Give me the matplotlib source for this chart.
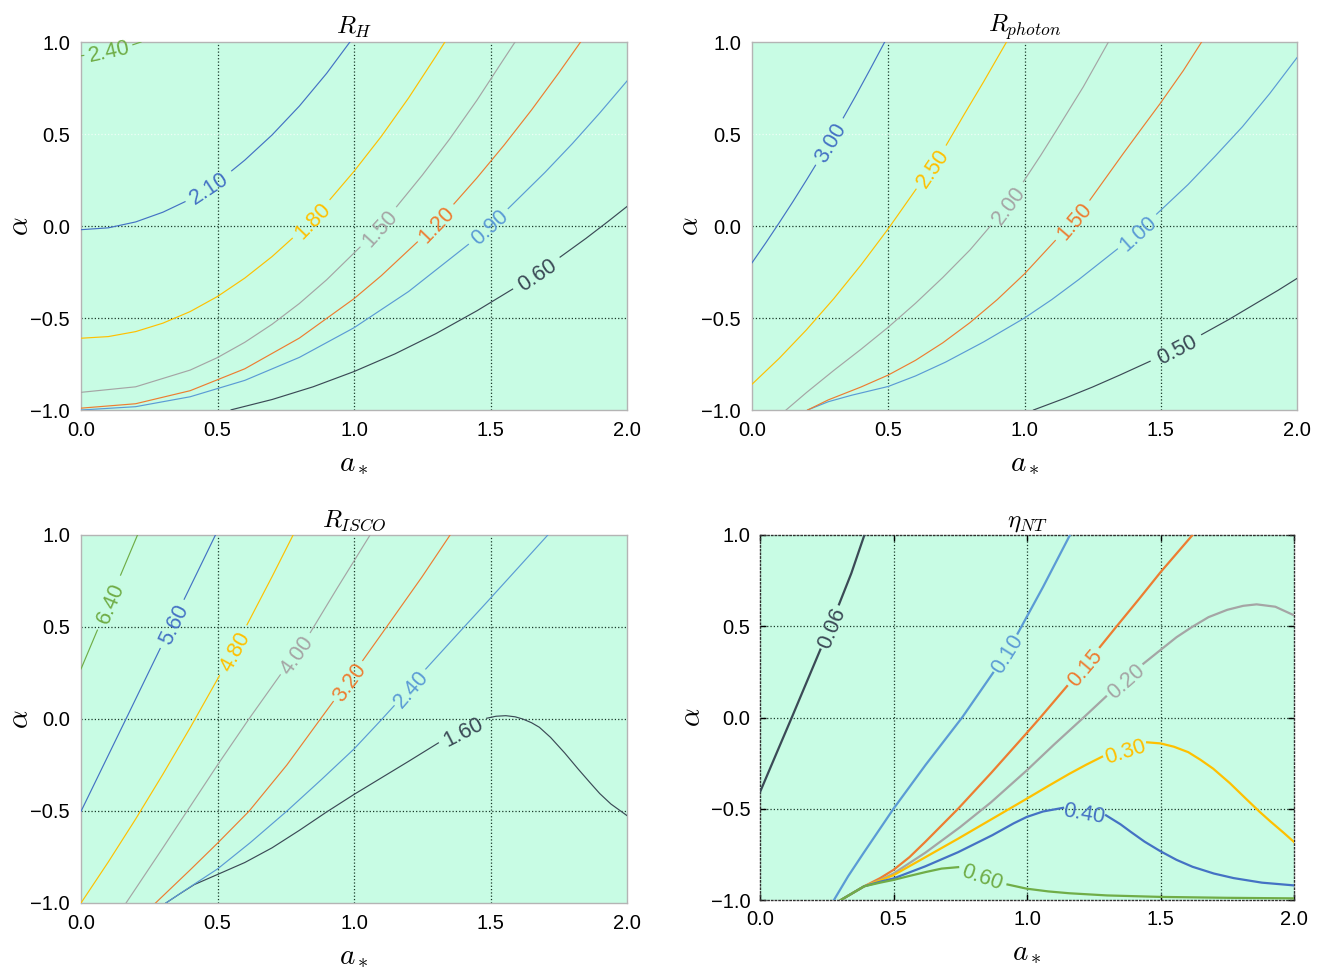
import numpy as np
import matplotlib
matplotlib.use('Agg')
import matplotlib.pyplot as plt

plt.rcParams['font.family'] = ['Liberation Sans', 'DejaVu Sans']
plt.rcParams['mathtext.fontset'] = 'cm'

BG = '#c8fce4'
COLORS = ['#3b4a56', '#5b9bd5', '#ed7d31', '#a5a5a5', '#ffc000', '#4472c4', '#70ad47']
N = None  # label gap

# ---------------- R_H ----------------
RH_levels = [0.60, 0.90, 1.20, 1.50, 1.80, 2.10, 2.40]
RH_a = [
    [0.55, 0.7, 0.85, 1.0, 1.15, 1.3, 1.45, 1.581, N, 1.755, 1.85, 1.93, 2.0],
    [0.0, 0.2, 0.4, 0.6, 0.8, 1.0, 1.2, 1.419, N, 1.565, 1.7, 1.8, 1.9, 2.0],
    [0.0, 0.2, 0.4, 0.6, 0.8, 1.0, 1.1, 1.232, N, 1.366, 1.45, 1.55, 1.65, 1.75, 1.83],
    [0.0, 0.2, 0.4, 0.5, 0.6, 0.7, 0.8, 0.9, 1.022, N, 1.156, 1.25, 1.35, 1.45, 1.55, 1.59],
    [0.0, 0.1, 0.2, 0.3, 0.4, 0.5, 0.6, 0.7, 0.774, N, 0.912, 1.0, 1.1, 1.2, 1.3, 1.333],
    [0.0, 0.1, 0.2, 0.3, 0.381, N, 0.552, 0.6, 0.7, 0.8, 0.9, 0.985],
    [0.0, 0.01, N, 0.19, 0.22],
]
RH_alpha = [
    [-0.999, -0.943, -0.874, -0.791, -0.695, -0.585, -0.461, -0.343, N, -0.169, -0.067, 0.024, 0.106],
    [-1.0, -0.982, -0.928, -0.839, -0.714, -0.553, -0.356, -0.1, N, 0.095, 0.292, 0.448, 0.614, 0.788],
    [-0.99, -0.966, -0.895, -0.776, -0.609, -0.395, -0.27, -0.087, N, 0.12, 0.261, 0.44, 0.63, 0.832, 1.0],
    [-0.904, -0.874, -0.783, -0.715, -0.632, -0.534, -0.421, -0.292, -0.115, N, 0.105, 0.276, 0.472, 0.683, 0.91, 1.0],
    [-0.61, -0.601, -0.574, -0.528, -0.465, -0.383, -0.283, -0.166, -0.067, N, 0.144, 0.297, 0.487, 0.696, 0.923, 1.0],
    [-0.02, -0.01, 0.022, 0.075, 0.132, N, 0.30, 0.358, 0.495, 0.652, 0.83, 1.0],
    [0.925, 0.927, N, 0.985, 1.0],
]

# ---------------- R_photon ----------------
RP_levels = [0.50, 1.00, 1.50, 2.00, 2.50, 3.00]
RP_a = [
    [1.033, 1.15, 1.25, 1.35, 1.461, N, 1.65, 1.75, 1.85, 1.93, 2.0],
    [0.204, 0.28, 0.365, 0.5, 0.6, 0.71, 0.85, 1.0, 1.1, 1.2, 1.341, N, 1.485, 1.6, 1.7, 1.8, 1.9, 2.0],
    [0.204, 0.28, 0.4, 0.5, 0.6, 0.7, 0.8, 0.9, 1.0, 1.113, N, 1.24, 1.3, 1.363, 1.43, 1.497, 1.583, 1.65],
    [0.125, 0.2, 0.3, 0.4, 0.5, 0.6, 0.7, 0.8, 0.875, N, 0.996, 1.06, 1.118, 1.216, 1.308],
    [0.0, 0.1, 0.2, 0.3, 0.4, 0.5, 0.602, N, 0.713, 0.78, 0.85, 0.934],
    [0.0, 0.05, 0.1, 0.15, 0.2, 0.233, N, 0.335, 0.38, 0.43, 0.487],
]
RP_alpha = [
    [-1.0, -0.935, -0.875, -0.81, -0.735, N, -0.59, -0.508, -0.42, -0.35, -0.285],
    [-1.0, -0.955, -0.92, -0.872, -0.815, -0.74, -0.63, -0.5, -0.40, -0.29, -0.125, N, 0.065, 0.225, 0.38, 0.54, 0.72, 0.915],
    [-1.0, -0.945, -0.875, -0.81, -0.73, -0.635, -0.525, -0.40, -0.26, -0.079, N, 0.141, 0.265, 0.395, 0.53, 0.664, 0.845, 1.0],
    [-1.0, -0.905, -0.785, -0.67, -0.55, -0.42, -0.28, -0.13, 0.0, N, 0.241, 0.385, 0.522, 0.757, 1.0],
    [-0.86, -0.719, -0.564, -0.395, -0.212, -0.015, 0.2, N, 0.44, 0.61, 0.784, 1.0],
    [-0.2, -0.093, 0.018, 0.132, 0.25, 0.33, N, 0.588, 0.706, 0.842, 1.0],
]

# ---------------- R_ISCO ----------------
RI_levels = [1.60, 2.40, 3.20, 4.00, 4.80, 5.60, 6.40]
RI_a = [
    [0.311, 0.36, 0.415, 0.5, 0.6, 0.7, 0.8, 0.9, 1.0, 1.1, 1.2, 1.309, N,
     1.486, 1.52, 1.556, 1.59, 1.618, 1.65, 1.679, 1.72, 1.772, 1.82, 1.864, 1.9, 1.941, 2.0],
    [0.311, 0.4, 0.5, 0.62, 0.753, 0.88, 1.0, 1.101, 1.147, N, 1.263, 1.402, 1.499, 1.6, 1.71],
    [0.273, 0.4, 0.5, 0.615, 0.754, 0.877, 0.924, N, 1.032, 1.124, 1.248, 1.352],
    [0.165, 0.3, 0.4, 0.5, 0.615, 0.73, N, 0.84, 0.94, 1.059],
    [0.0, 0.1, 0.2, 0.3, 0.4, 0.507, N, 0.608, 0.7, 0.777],
    [0.0, 0.08, 0.168, 0.237, 0.29, N, 0.378, 0.446, 0.4925],
    [0.0, 0.06, N, 0.145, 0.207],
]
RI_alpha = [
    [-1.0, -0.952, -0.9, -0.845, -0.78, -0.70, -0.605, -0.505, -0.41, -0.32, -0.23, -0.13, N,
     0.004, 0.015, 0.018, 0.012, 0.0, -0.02, -0.045, -0.1, -0.185, -0.27, -0.345, -0.405, -0.462, -0.525],
    [-1.0, -0.912, -0.815, -0.672, -0.502, -0.33, -0.163, -0.003, 0.072, N, 0.272, 0.498, 0.655, 0.82, 1.0],
    [-1.0, -0.82, -0.675, -0.502, -0.25, 0.0, 0.095, N, 0.318, 0.51, 0.77, 1.0],
    [-1.0, -0.70, -0.475, -0.25, 0.0, 0.24, N, 0.47, 0.715, 1.0],
    [-1.0, -0.777, -0.544, -0.3, -0.047, 0.235, N, 0.512, 0.774, 1.0],
    [-0.502, -0.258, 0.01, 0.221, 0.383, N, 0.651, 0.858, 1.0],
    [0.272, 0.483, N, 0.782, 1.0],
]

# ---------------- eta_NT ----------------
EN_levels = [0.06, 0.10, 0.15, 0.20, 0.30, 0.40, 0.60]
EN_a = [
    [0.0, 0.065, 0.119, 0.188, 0.226, N, 0.296, 0.342, 0.391],
    [0.277, 0.33, 0.388, 0.5, 0.62, 0.757, 0.873, N, 0.965, 1.06, 1.161],
    [0.303, 0.39, 0.45, 0.5, 0.56, 0.62, 0.742, 0.865, 0.999, 1.05, 1.15, N, 1.273, 1.336, 1.42, 1.5, 1.62],
    [0.303, 0.39, 0.45, 0.5, 0.62, 0.75, 0.865, 0.999, 1.1, 1.212, 1.296, N,
     1.436, 1.5, 1.56, 1.617, 1.68, 1.75, 1.81, 1.86, 1.93, 2.0],
    [0.303, 0.39, 0.45, 0.5, 0.62, 0.742, 0.87, 0.999, 1.08, 1.158, 1.22, 1.281, N,
     1.45, 1.5, 1.55, 1.604, 1.65, 1.697, 1.76, 1.82, 1.87, 1.912, 1.96, 2.0],
    [0.303, 0.39, 0.45, 0.5, 0.62, 0.742, 0.87, 0.95, 0.999, 1.06, 1.135, N,
     1.296, 1.35, 1.389, 1.44, 1.5, 1.56, 1.62, 1.7, 1.774, 1.88, 2.0],
    [0.303, 0.39, 0.45, 0.5, 0.56, 0.62, 0.68, 0.742, N, 0.927, 0.999, 1.08, 1.158, 1.3, 1.5, 1.75, 2.0],
]
EN_alpha = [
    [-0.409, -0.185, 0.0, 0.24, 0.372, N, 0.62, 0.79, 1.0],
    [-1.0, -0.87, -0.742, -0.5, -0.26, 0.0, 0.245, N, 0.46, 0.715, 1.0],
    [-1.0, -0.925, -0.88, -0.835, -0.765, -0.68, -0.5, -0.305, -0.085, 0.0, 0.172, N, 0.386, 0.5, 0.65, 0.796, 1.0],
    [-1.0, -0.925, -0.89, -0.855, -0.74, -0.6, -0.465, -0.29, -0.15, 0.0, 0.115, N,
     0.295, 0.37, 0.44, 0.495, 0.55, 0.59, 0.612, 0.62, 0.607, 0.56],
    [-1.0, -0.925, -0.893, -0.864, -0.765, -0.664, -0.555, -0.445, -0.375, -0.309, -0.26, -0.215, N,
     -0.136, -0.142, -0.16, -0.19, -0.232, -0.28, -0.36, -0.445, -0.515, -0.57, -0.63, -0.682],
    [-1.0, -0.925, -0.9, -0.882, -0.815, -0.738, -0.645, -0.58, -0.545, -0.515, -0.495, N,
     -0.536, -0.585, -0.627, -0.68, -0.733, -0.78, -0.818, -0.855, -0.88, -0.905, -0.92],
    [-1.0, -0.925, -0.905, -0.89, -0.868, -0.847, -0.828, -0.82, N, -0.915, -0.938, -0.953, -0.963, -0.975, -0.983, -0.988, -0.991],
]

TITLES = [r'$R_H$', r'$R_{photon}$', r'$R_{ISCO}$', r'$\eta_{NT}$']
XTICKS = [0.0, 0.5, 1.0, 1.5, 2.0]
YTICKS = [-1.0, -0.5, 0.0, 0.5, 1.0]

W, H = 1323, 967
fig = plt.figure(figsize=(W / 100, H / 100), dpi=100)


def box(l, r, t, b):
    return [l / W, 1 - b / H, (r - l) / W, (b - t) / H]


axes = [
    fig.add_axes(box(81, 627, 42, 410)),
    fig.add_axes(box(752, 1297, 42, 410)),
    fig.add_axes(box(81, 627, 535, 903)),
    fig.add_axes(box(760, 1294, 535, 900)),
]
YLABEL_X = [(34 - 81) / 546, (704 - 752) / 545, (34 - 81) / 546, (706 - 760) / 534]

data = [(RH_levels, RH_a, RH_alpha), (RP_levels, RP_a, RP_alpha),
        (RI_levels, RI_a, RI_alpha), (EN_levels, EN_a, EN_alpha)]

for idx, ax in enumerate(axes):
    last = idx == 3
    ax.set_facecolor(BG)
    ax.set_xlim(0, 2)
    ax.set_ylim(-1, 1)
    ax.set_xticks(XTICKS)
    ax.set_yticks(YTICKS)
    ax.set_xticklabels(['%.1f' % v for v in XTICKS])
    ax.set_yticklabels([('\u2212%.1f' % -v) if v < 0 else '%.1f' % v for v in YTICKS])
    if last:
        ax.tick_params(direction='in', length=4, width=1, color='k', top=True, right=True,
                       labelsize=14.5, pad=7)
        for s in ax.spines.values():
            s.set_linestyle(':')
            s.set_color('#303030')
            s.set_linewidth(1.0)
    else:
        ax.tick_params(length=0, labelsize=14.5, pad=8)
        for s in ax.spines.values():
            s.set_color('#b4b4b4')
            s.set_linewidth(1.0)
    for v in XTICKS[1:-1]:
        ax.axvline(v, color='#1a3a2a', ls=':', lw=0.9, zorder=1)
    for v in YTICKS[1:-1]:
        if idx in (0, 1) and v == 0.5:
            ax.axhline(v, color='white', ls=':', lw=0.9, zorder=1, alpha=0.7)
        else:
            ax.axhline(v, color='#1a3a2a', ls=':', lw=0.9, zorder=1)
    ax.set_title(TITLES[idx], fontsize=18, pad=6)
    ax.set_xlabel(r'$a_*$', fontsize=21, labelpad=6)
    ax.set_ylabel(r'$\alpha$', fontsize=21)
    ax.yaxis.set_label_coords(YLABEL_X[idx], 0.5)

for idx, ax in enumerate(axes):
    levels, A, B = data[idx]
    lw = 1.6 if idx == 3 else 0.85
    for i, (lev, xs, ys) in enumerate(zip(levels, A, B)):
        col = COLORS[i]
        x = np.array([np.nan if v is None else v for v in xs], dtype=float)
        y = np.array([np.nan if v is None else v for v in ys], dtype=float)
        ax.plot(x, y, color=col, lw=lw, zorder=3, solid_joinstyle='round')
        k = xs.index(None)
        x0, y0, x1, y1 = x[k - 1], y[k - 1], x[k + 1], y[k + 1]
        p0 = ax.transData.transform((x0, y0))
        p1 = ax.transData.transform((x1, y1))
        ang = np.degrees(np.arctan2(p1[1] - p0[1], p1[0] - p0[0]))
        if ang > 90:
            ang -= 180
        if ang < -90:
            ang += 180
        ax.text((x0 + x1) / 2, (y0 + y1) / 2, '%.2f' % lev, color=col, fontsize=15.5,
                rotation=ang, rotation_mode='anchor', ha='center', va='center_baseline',
                zorder=4)

fig.savefig('out.png', dpi=100, facecolor='white')
